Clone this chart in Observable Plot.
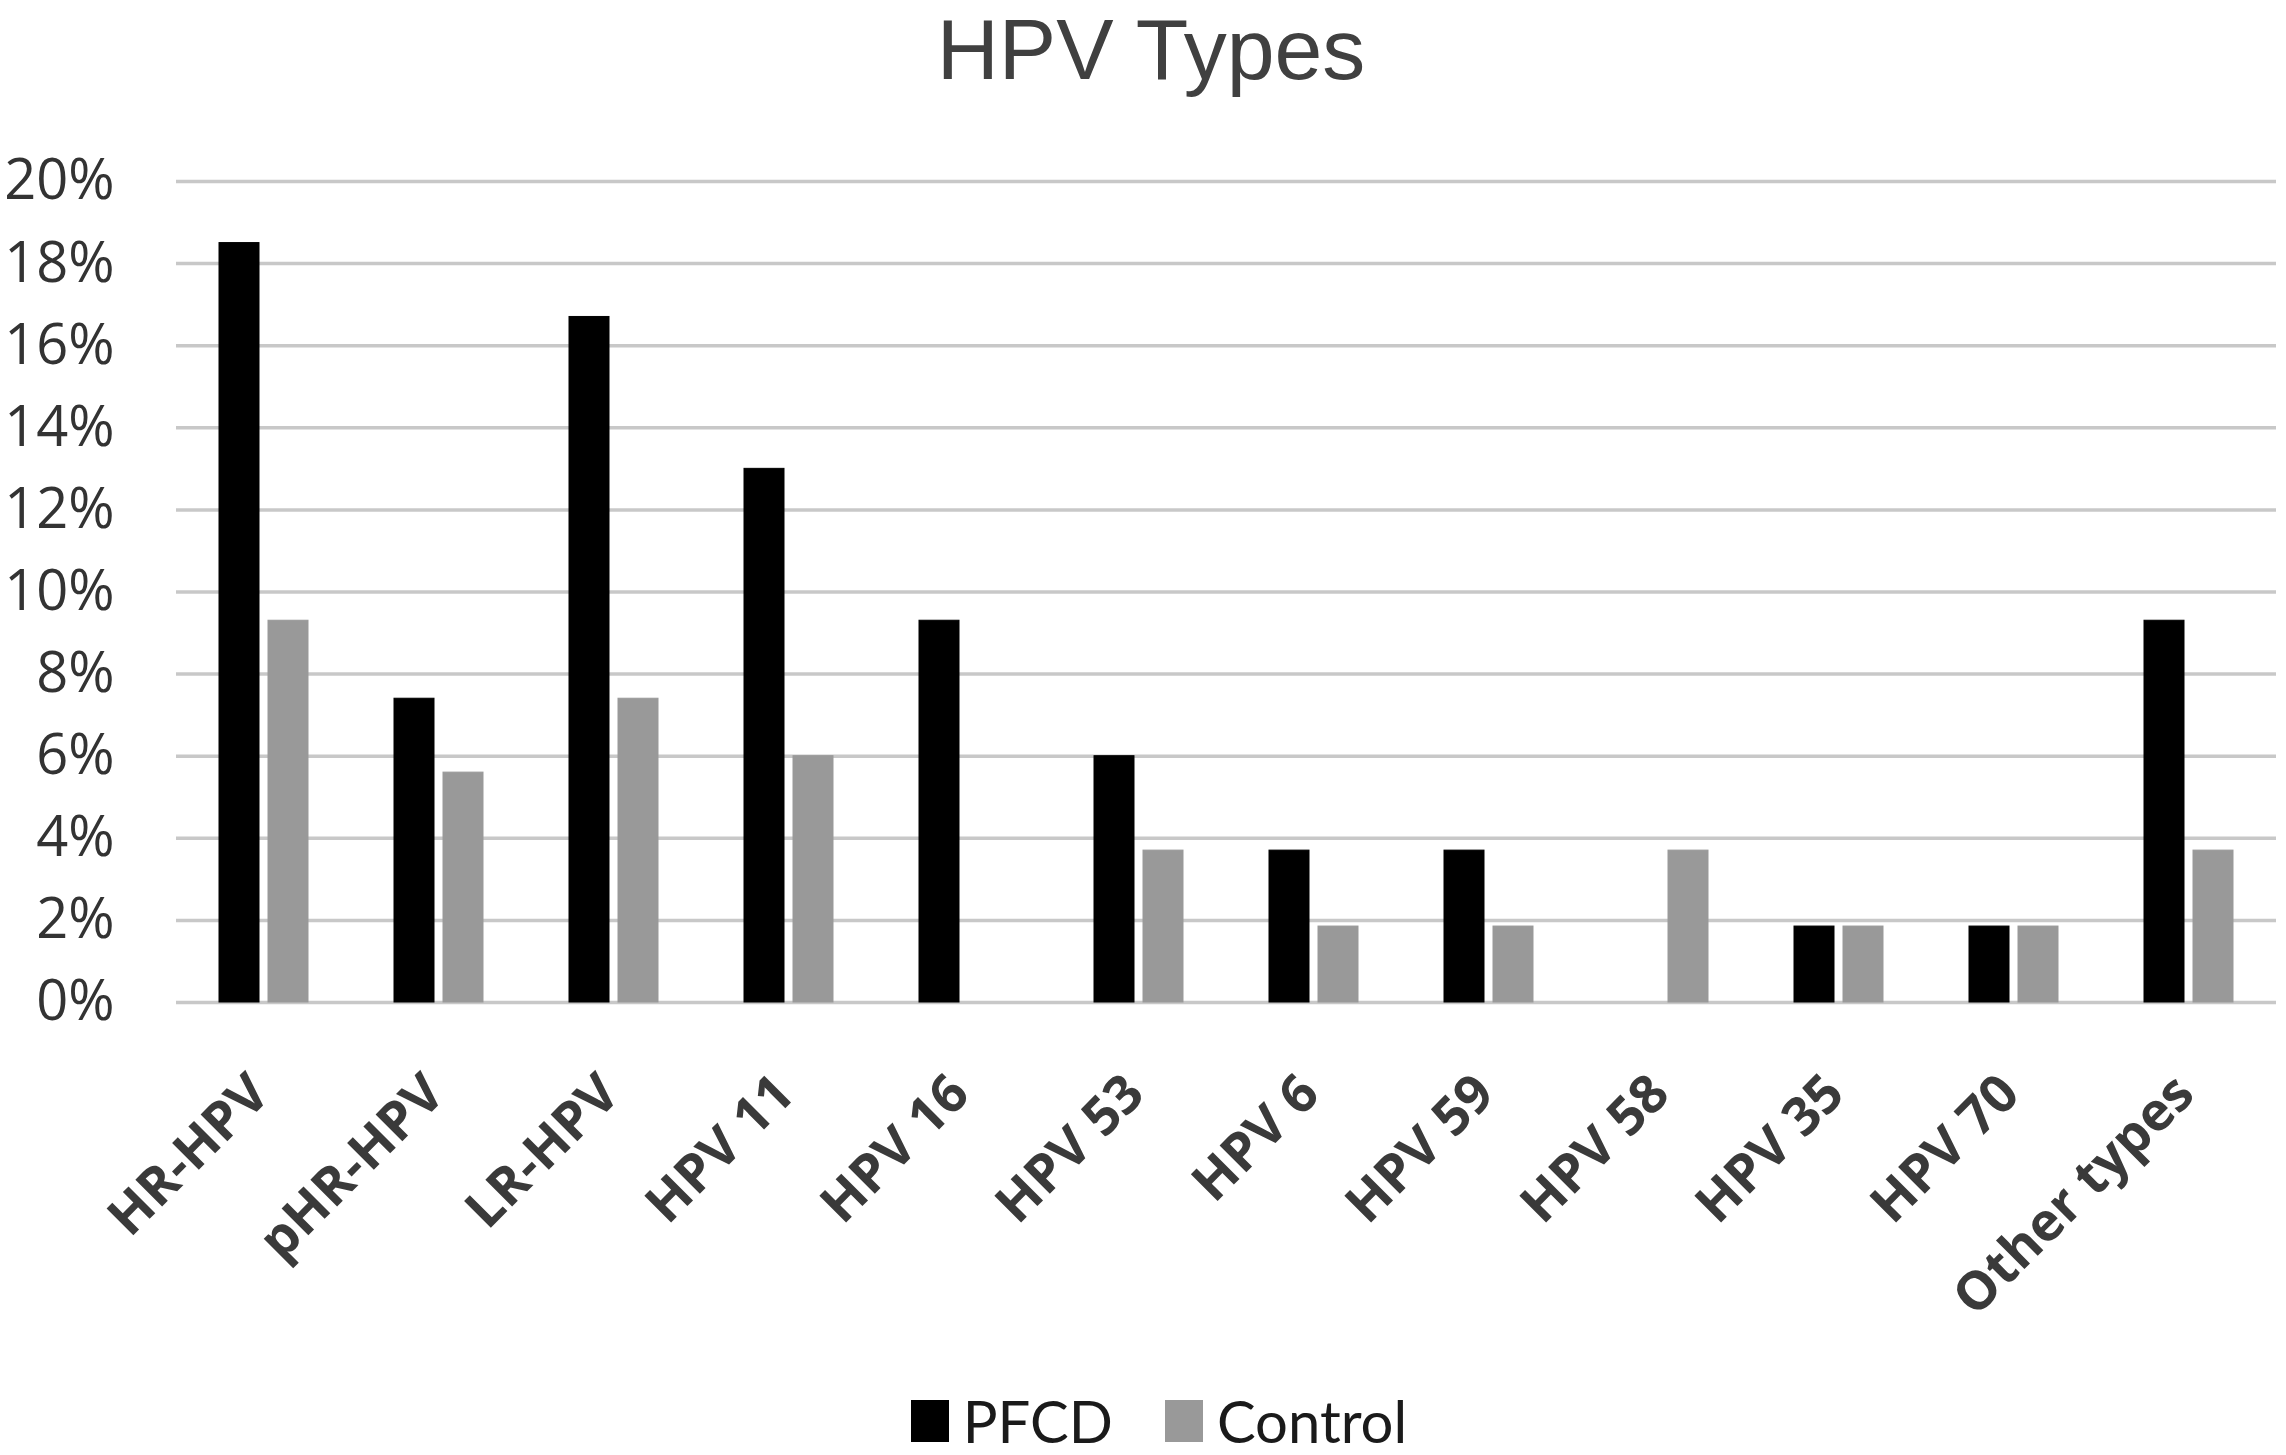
<!DOCTYPE html>
<html>
<head>
<meta charset="utf-8">
<script src="https://cdn.jsdelivr.net/npm/d3@7"></script>
<script src="https://cdn.jsdelivr.net/npm/@observablehq/plot@0.6"></script>
<style>
  html, body { margin: 0; padding: 0; background: #fff; }
  #wrap { position: relative; width: 2286px; height: 1455px; overflow: hidden; background: #fff; font-family: "Open Sans", sans-serif; }
  #title { position: absolute; top: 1px; left: 0; width: 2286px; box-sizing: border-box; padding-left: 16px; text-align: center; font-family: "Liberation Sans", Arial, sans-serif; font-size: 86px; line-height: 96px; font-weight: 400; color: #404040; }
  #chart { position: absolute; top: 120px; left: 0; }
  #legend { position: absolute; top: 1386px; left: 0; width: 2286px; box-sizing: border-box; padding-left: 32px; display: flex; justify-content: center; align-items: center; font-family: Lato, "Open Sans", sans-serif; font-size: 58px; line-height: 69px; color: #1a1a1a; }
  .item { display: flex; align-items: center; margin: 0 26px; }
  .sw { width: 38px; height: 42px; margin-right: 14px; }
</style>
</head>
<body>
<div id="wrap">
  <div id="title">HPV Types</div>
  <div id="chart"></div>
  <div id="legend"></div>
</div>
<script>
const categories = ["HR-HPV", "pHR-HPV", "LR-HPV", "HPV 11", "HPV 16", "HPV 53", "HPV 6", "HPV 59", "HPV 58", "HPV 35", "HPV 70", "Other types"];
const seriesNames = ["PFCD", "Control"];
const pfcdValues = [18.5, 7.4, 16.7, 13.0, 9.3, 6.0, 3.7, 3.7, 0, 1.85, 1.85, 9.3];
const controlValues = [9.3, 5.6, 7.4, 6.0, 0, 3.7, 1.85, 1.85, 3.7, 1.85, 1.85, 3.7];
const yTicks = [0, 2, 4, 6, 8, 10, 12, 14, 16, 18, 20];
const seriesColors = ["#000000", "#999999"];

const data = categories.flatMap((c, i) => [
  {category: c, series: seriesNames[0], value: pfcdValues[i]},
  {category: c, series: seriesNames[1], value: controlValues[i]}
]);

const chart = Plot.plot({
  width: 2286,
  height: 1240,
  marginTop: 61,
  marginBottom: 358,
  marginLeft: 174,
  marginRight: 8,
  style: {fontFamily: "'Open Sans', sans-serif", background: "transparent"},
  fx: {domain: categories, padding: 0, label: null},
  x: {domain: seriesNames, paddingInner: 0.1837, paddingOuter: 0.874, axis: null},
  y: {domain: [0, 20]},
  color: {domain: seriesNames, range: seriesColors},
  marks: [
    Plot.ruleY(yTicks, {stroke: "#c8c8c8", strokeWidth: 3.5}),
    Plot.barY(data, {fx: "category", x: "series", y: "value", fill: "series", stroke: "series", strokeWidth: 1}),
    Plot.axisY(yTicks, {tickSize: 0, tickPadding: 62, tickFormat: d => d + "%", fontSize: 56, color: "#333333", label: null}),
    Plot.axisFx({anchor: "bottom", tickRotate: -45, tickSize: 0, tickPadding: 82, dx: -4, fontSize: 53, fontWeight: "bold", color: "#3a3a3a", label: null})
  ]
});
document.getElementById("chart").appendChild(chart);

const legend = document.getElementById("legend");
seriesNames.forEach((s, i) => {
  const item = document.createElement("div");
  item.className = "item";
  const sw = document.createElement("div");
  sw.className = "sw";
  sw.style.background = seriesColors[i];
  const t = document.createElement("span");
  t.textContent = s;
  item.appendChild(sw);
  item.appendChild(t);
  legend.appendChild(item);
});
</script>
</body>
</html>
